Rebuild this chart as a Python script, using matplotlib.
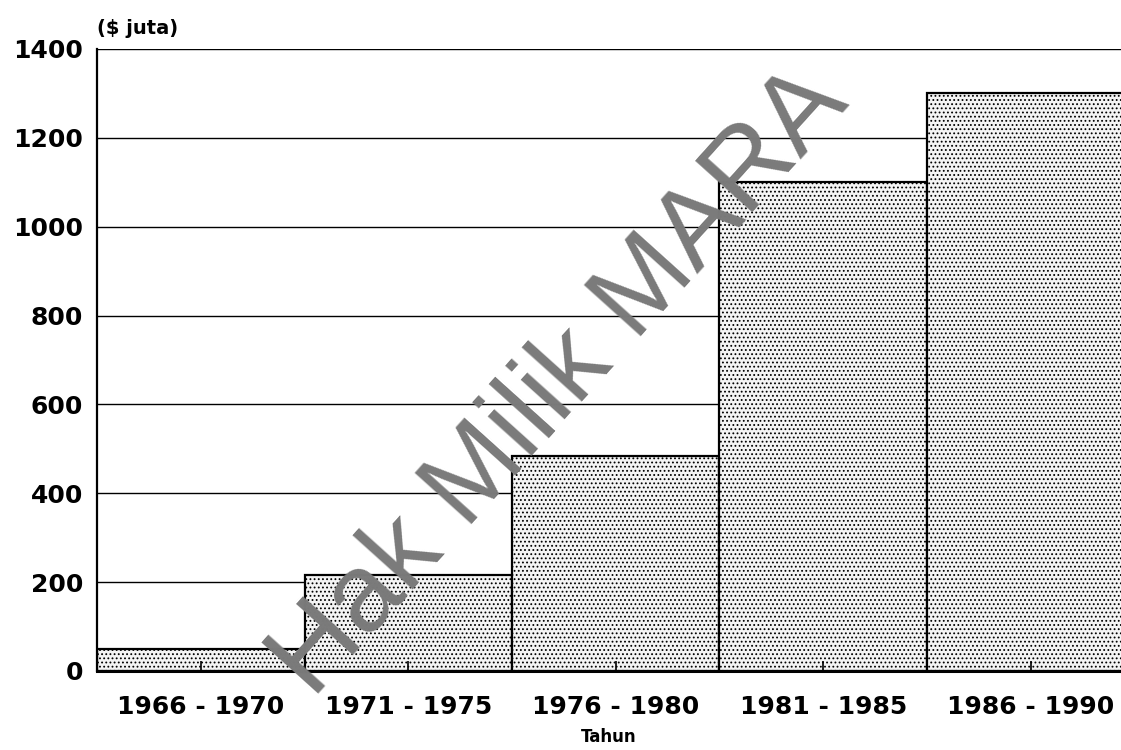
import numpy as np
import matplotlib.pyplot as plt

periods = ["1966 - 1970", "1971 - 1975", "1976 - 1980", "1981 - 1985", "1986 - 1990"]
values = [50, 215, 485, 1100, 1300]
yticks = [0, 200, 400, 600, 800, 1000, 1200, 1400]

plt.rcParams['font.family'] = ['DejaVu Sans']
plt.rcParams['hatch.linewidth'] = 0.8

fig = plt.figure(figsize=(11.21, 7.5), dpi=100)
ax = fig.add_axes([97 / 1121, 1 - 671 / 750, 1024 / 1121, (671 - 49) / 750])

x = np.arange(len(periods))
# grid drawn by hand so the axis ticks can sit on top of the bars
for v in yticks[1:]:
    ax.axhline(v, color='black', linewidth=1.0, zorder=0)
ax.bar(x, values, width=1.0, facecolor='#f4f4f4', edgecolor='black', hatch='....',
       linewidth=1.6, zorder=2)
ax.set_axisbelow(False)

ax.set_xlim(-0.5, -0.5 + 1024 / 207.5)
ax.set_ylim(0, 1400)
ax.set_yticks(yticks)
ax.set_yticklabels([str(v) for v in yticks], fontsize=18, fontweight='bold')

ax.set_xticks(x)
ax.set_xticklabels(periods, fontsize=18, fontweight='bold')
ax.tick_params(axis='x', direction='in', length=7, width=1.2, pad=17)
ax.tick_params(axis='y', length=0, pad=10)

for s in ['top', 'right']:
    ax.spines[s].set_visible(False)
ax.spines['left'].set_linewidth(1.6)
ax.spines['bottom'].set_linewidth(2.2)

ax.set_xlabel("Tahun", fontsize=12, fontweight='bold', labelpad=7)
fig.text(97 / 1121, 1 - 28 / 750, "($ juta)", fontsize=14, fontweight='bold', va='center')

fig.text(0.5, 0.49, "Hak Milik MARA", fontsize=80, color='#7a7a7a', rotation=48,
         ha='center', va='center', rotation_mode='anchor', zorder=10,
         family='Liberation Sans')

fig.savefig("out.png", dpi=100)
